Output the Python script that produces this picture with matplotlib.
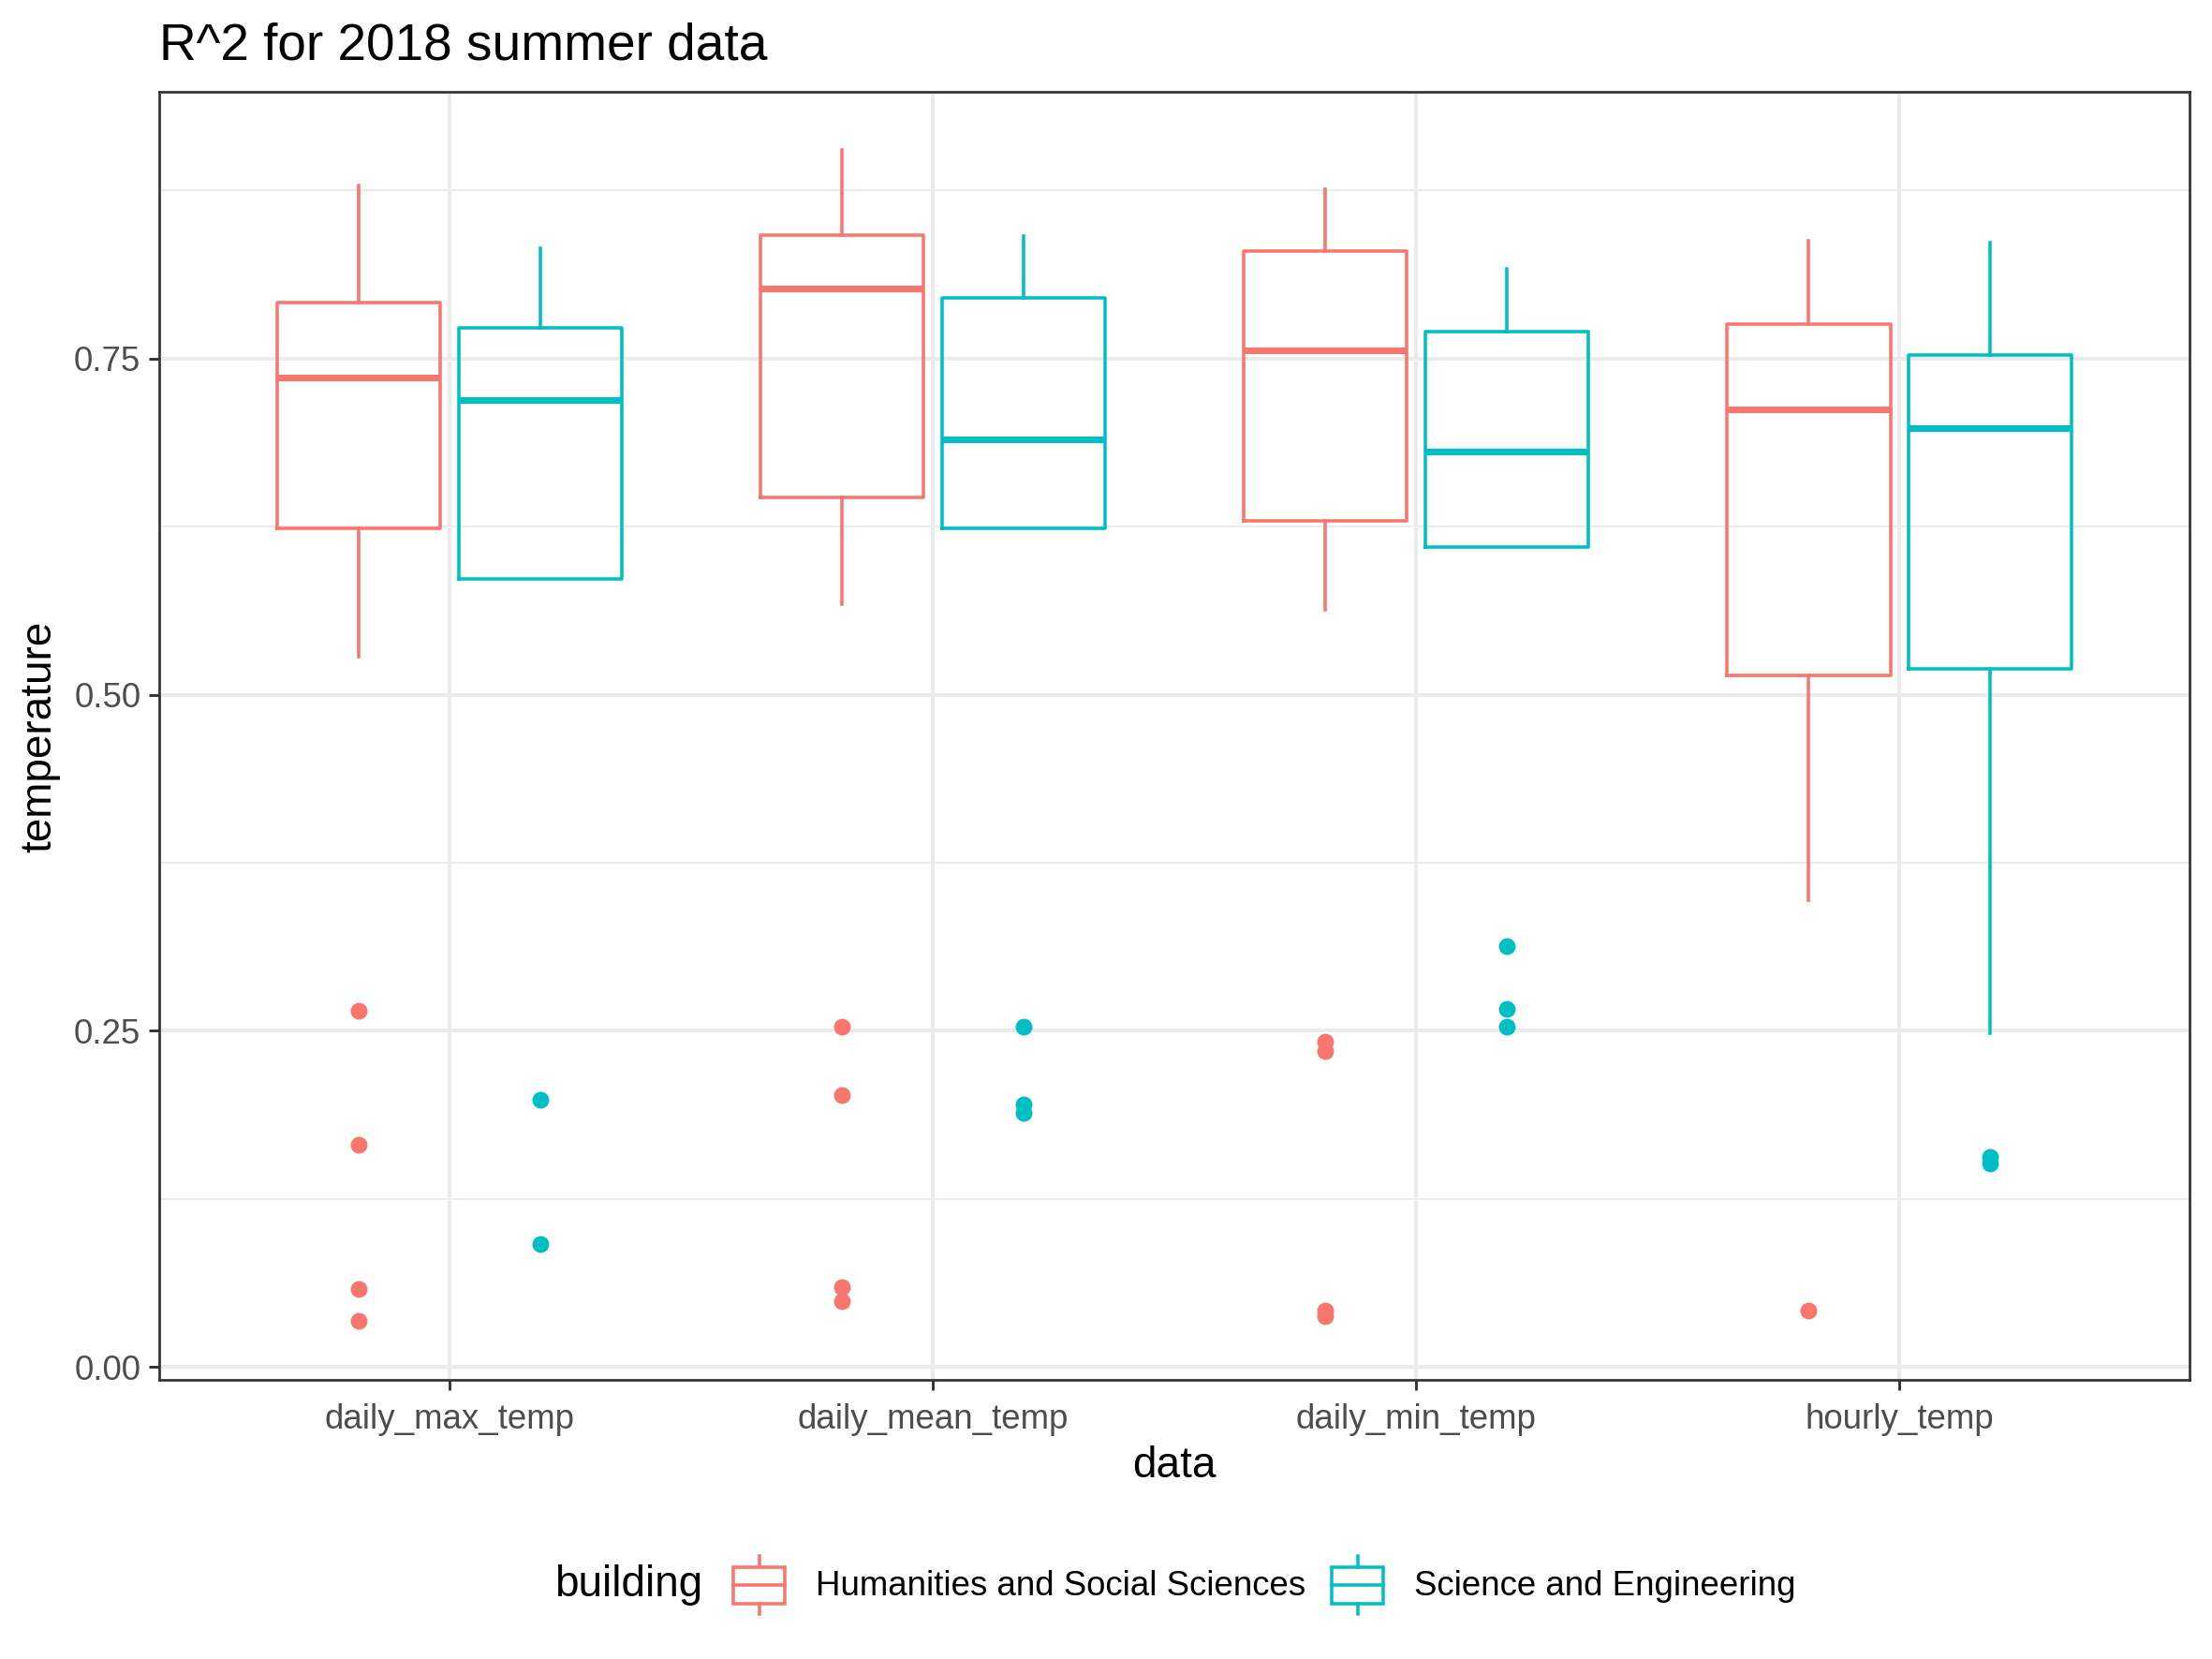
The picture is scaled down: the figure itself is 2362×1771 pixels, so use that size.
import matplotlib
matplotlib.use("Agg")
import matplotlib.pyplot as plt
from matplotlib.legend_handler import HandlerBase
from matplotlib.lines import Line2D
from matplotlib.patches import Rectangle
import numpy as np

plt.rcParams['font.family'] = ['Liberation Sans', 'DejaVu Sans']

categories = ['daily_max_temp', 'daily_mean_temp', 'daily_min_temp', 'hourly_temp']
buildings = ['Humanities and Social Sciences', 'Science and Engineering']
colors = ['#F8766D', '#00BFC4']

# box statistics (one value per category)
hss_whislo = [0.528, 0.567, 0.563, 0.347]
hss_q1 = [0.624, 0.647, 0.629, 0.514]
hss_med = [0.736, 0.802, 0.756, 0.712]
hss_q3 = [0.792, 0.842, 0.830, 0.776]
hss_whishi = [0.879, 0.905, 0.876, 0.838]
hss_out = [[0.265, 0.165, 0.058, 0.034],
           [0.253, 0.202, 0.059, 0.049],
           [0.242, 0.235, 0.042, 0.038],
           [0.042]]

se_whislo = [0.586, 0.624, 0.610, 0.248]
se_q1 = [0.586, 0.624, 0.610, 0.519]
se_med = [0.719, 0.690, 0.681, 0.698]
se_q3 = [0.773, 0.795, 0.770, 0.753]
se_whishi = [0.832, 0.841, 0.817, 0.836]
se_out = [[0.199, 0.091],
          [0.253, 0.195, 0.189],
          [0.313, 0.266, 0.253],
          [0.156, 0.151]]

series = [
    (hss_whislo, hss_q1, hss_med, hss_q3, hss_whishi, hss_out),
    (se_whislo, se_q1, se_med, se_q3, se_whishi, se_out),
]

fig = plt.figure(figsize=(2362 / 300, 1771 / 300), dpi=300)
ax = fig.add_axes([0.0721, 0.1684, 0.9898 - 0.0721, 0.9447 - 0.1684])

x = np.arange(1, len(categories) + 1)
dodge = 0.1875
box_w = 0.3375
lw = 0.85

for i, (lo, q1, med, q3, hi, out) in enumerate(series):
    stats = [dict(whislo=lo[k], q1=q1[k], med=med[k], q3=q3[k], whishi=hi[k],
                  fliers=out[k]) for k in range(len(categories))]
    c = colors[i]
    ax.bxp(stats, positions=x + (2 * i - 1) * dodge, widths=box_w,
           showcaps=False, showfliers=True, patch_artist=False,
           boxprops=dict(color=c, linewidth=lw),
           whiskerprops=dict(color=c, linewidth=lw),
           medianprops=dict(color=c, linewidth=1.7, solid_capstyle='butt'),
           flierprops=dict(marker='o', markersize=4.3, markerfacecolor=c,
                           markeredgewidth=0, linestyle='none'),
           zorder=3)

allvals = np.concatenate([np.ravel(hss_whislo), np.ravel(hss_whishi), np.ravel(se_whislo),
                          np.ravel(se_whishi)] + [np.ravel(o) for o in hss_out + se_out])
lo_v, hi_v = allvals.min(), allvals.max()
pad = 0.05 * (hi_v - lo_v)
ax.set_ylim(lo_v - pad, hi_v + pad)
ax.set_xlim(0.4, len(categories) + 0.6)

ax.set_xticks(x)
ax.set_xticklabels(categories)
ax.set_yticks([0, 0.25, 0.5, 0.75])
ax.set_yticklabels(['0.00', '0.25', '0.50', '0.75'])
ax.set_yticks([0.125, 0.375, 0.625, 0.875], minor=True)
ax.tick_params(axis='both', which='major', length=2.6, width=0.7, color='#333333',
               labelcolor='#4D4D4D', labelsize=8.8)
ax.tick_params(axis='x', which='major', pad=3.4)
ax.tick_params(axis='y', which='major', pad=2.2)
ax.tick_params(axis='y', which='minor', length=0)
ax.grid(True, which='major', color='#EBEBEB', linewidth=0.95, zorder=0)
ax.grid(True, which='minor', axis='y', color='#EBEBEB', linewidth=0.5, zorder=0)
ax.set_axisbelow(True)
for s in ax.spines.values():
    s.set_color('#333333')
    s.set_linewidth(0.65)

fig.text(0.0721, 0.9644, 'R^2 for 2018 summer data', fontsize=13.2, va='baseline', ha='left')
fig.text(0.531, 0.1165, 'data', fontsize=11, ha='center', va='center')
fig.text(0.018, 0.556, 'temperature', fontsize=11, ha='center', va='center', rotation=90)


class BoxKey(HandlerBase):
    def create_artists(self, legend, orig_handle, xdescent, ydescent, width, height,
                       fontsize, trans):
        c = orig_handle.get_color()
        x0, y0 = -xdescent, -ydescent
        box = Rectangle((x0 + 0.125 * width, y0 + 0.25 * height), 0.75 * width, 0.5 * height,
                        fill=False, edgecolor=c, linewidth=lw, transform=trans)
        med = Line2D([x0 + 0.125 * width, x0 + 0.875 * width], [y0 + 0.5 * height] * 2,
                     color=c, linewidth=lw, transform=trans)
        w1 = Line2D([x0 + 0.5 * width] * 2, [y0 + 0.1 * height, y0 + 0.25 * height],
                    color=c, linewidth=lw, transform=trans)
        w2 = Line2D([x0 + 0.5 * width] * 2, [y0 + 0.75 * height, y0 + 0.9 * height],
                    color=c, linewidth=lw, transform=trans)
        return [box, med, w1, w2]


handles = [Line2D([], [], color=c) for c in colors]
fig.text(393 / 1568, 0.0445, 'building', fontsize=11, ha='left', va='center')
fig.legend(handles, buildings, handler_map={Line2D: BoxKey()},
           loc='center left', bbox_to_anchor=(514 / 1568, 0.0445), ncol=2,
           frameon=False, fontsize=8.8, handlelength=2.0, handleheight=2.9,
           handletextpad=0.65, columnspacing=0.5, borderpad=0, borderaxespad=0)

fig.savefig('out.png', dpi=300)
